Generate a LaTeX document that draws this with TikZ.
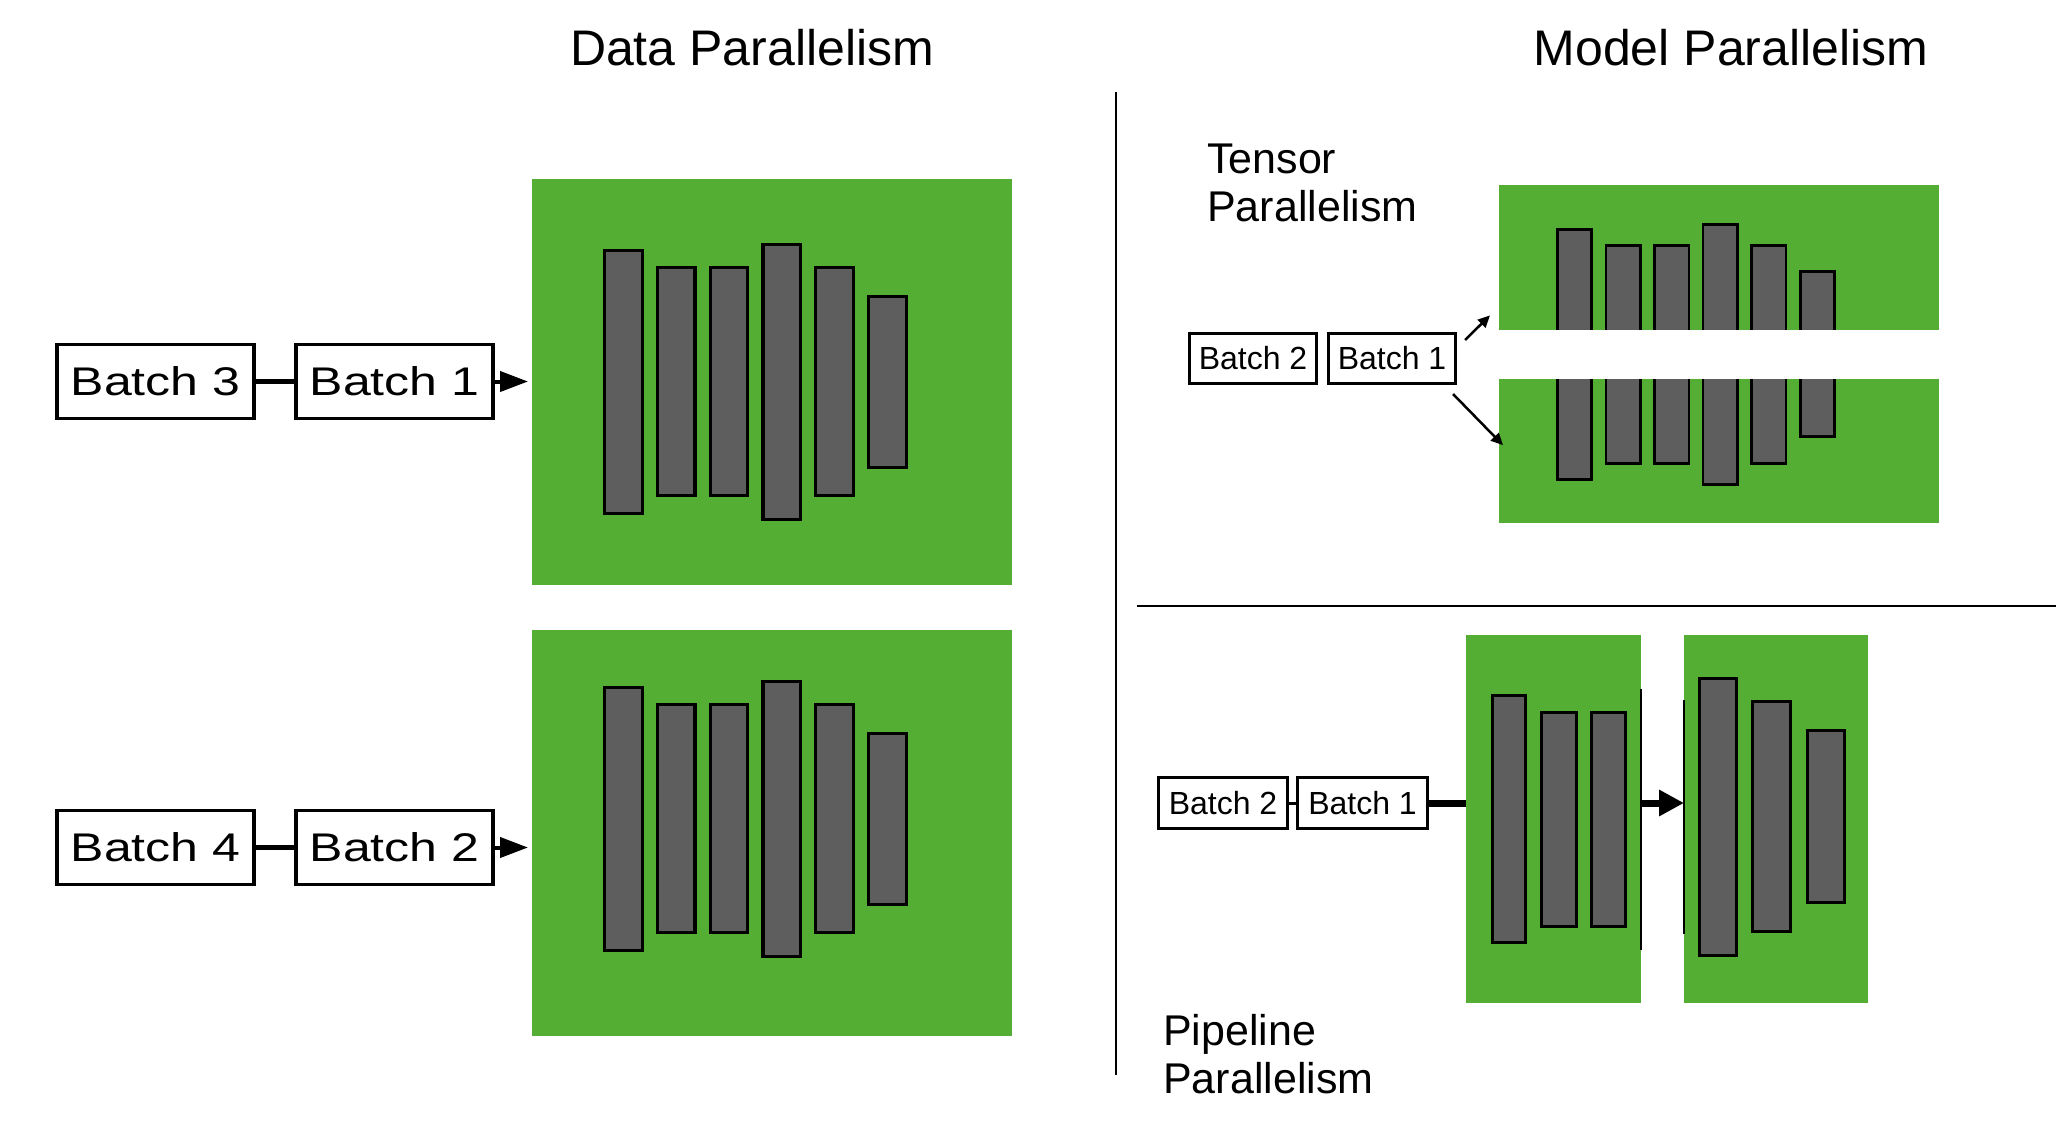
\documentclass[tikz,border=0pt]{standalone}
\usepackage{fontspec,graphicx}
\setmainfont{Liberation Sans}
\definecolor{pgreen}{RGB}{84,174,51}
\definecolor{bargray}{RGB}{94,94,94}
\usetikzlibrary{arrows.meta,positioning,calc}
\newcommand{\wide}[1]{\scalebox{1.25}[1]{#1}}

\begin{document}
\begin{tikzpicture}[x=1pt, y=-1pt,
  bx/.style={draw, line width=3.3pt, inner sep=0pt, minimum width=197pt, minimum height=74pt, font=\fontsize{40}{48}\selectfont},
  sbx/.style={draw, line width=3.2pt, inner sep=0pt, minimum width=127pt, minimum height=50pt, font=\fontsize{32}{38}\selectfont},
  panel/.style={fill=pgreen, inner sep=0pt, anchor=north west},
  bar/.style={draw, fill=bargray, line width=3.3pt},
  ttl/.style={font=\fontsize{50}{60}\selectfont, anchor=base, inner sep=0pt},
  lbl/.style={font=\fontsize{43}{48}\selectfont, align=left, anchor=base west, inner sep=0pt}]
\useasboundingbox (0,0) rectangle (2056,1130);
% Titles and separators
\node[ttl] (dtitle) at (752,65) {Data Parallelism};
\node[ttl] (mtitle) at (1731,65) {Model Parallelism};
\draw[line width=2pt] (1116,92) -- (1116,1075);
\draw[line width=2pt] (1137,606) -- (2056,606);
% Data parallelism
\node[panel, minimum width=480pt, minimum height=406pt] (dp1) at (532,179) {};
\node[panel, minimum width=480pt, minimum height=406pt] (dp2) at (532,630) {};
\foreach \yo in {0,437}
  \foreach \i/\t/\b in {0/249/515,1/266/497,2/266/497,3/243/521,4/266/497,5/295/469}
    \draw[bar] ({604.6+52.8*\i},{\t+\yo+1.6}) rectangle ({642.2+52.8*\i},{\b+\yo-1.6});
\node[bx] (b3) at (155.5,381.5) {\wide{Batch 3}};
\node[bx] (b1) at (394.5,381.5) {\wide{Batch 1}};
\node[bx] (b4) at (155.5,847.5) {\wide{Batch 4}};
\node[bx] (b2) at (394.5,847.5) {\wide{Batch 2}};
\draw[line width=5pt] (b3) -- (b1);
\draw[line width=5pt] (b4) -- (b2);
\draw[line width=4pt, -{Triangle[length=28pt,width=20pt]}] (b1.east) -- ([xshift=-4pt]b1.east -| dp1.west);
\draw[line width=4pt, -{Triangle[length=28pt,width=20pt]}] (b2.east) -- ([xshift=-4pt]b2.east -| dp2.west);
% Tensor parallelism
\node[lbl] (tlabel) at (1207,221) {Tensor\\Parallelism};
\node[panel, minimum width=440pt, minimum height=145pt] (tp1) at (1499,185) {};
\node[panel, minimum width=440pt, minimum height=144pt] (tp2) at (1499,379) {};
\foreach \i/\t/\b in {0/228/481,1/244/465,2/244/465,3/223/486,4/244/465,5/270/438}
  \draw[bar, line width=2.7pt] ({1557.3+48.6*\i},{\t+1.35}) rectangle ({1591.7+48.6*\i},{\b-1.35});
\fill[white] (tp1.south west) rectangle (tp2.north east);
\node[sbx] (tb2) at (1253,358.5) {Batch 2};
\node[sbx] (tb1) at (1392,358.5) {Batch 1};
\draw[line width=2.5pt, -{Triangle[length=12pt,width=11pt]}] ([xshift=8pt,yshift=-8pt]tb1.north east) -- ([xshift=-9pt,yshift=15pt]tp1.south west);
\draw[line width=2.5pt, -{Triangle[length=12pt,width=11pt]}] ([xshift=-4pt,yshift=-9pt]tb1.south east) -- ([xshift=4pt,yshift=6pt]tp2.west);
% Pipeline parallelism
\node[lbl] (plabel) at (1163,1093) {Pipeline\\Parallelism};
\node[panel, minimum width=175pt, minimum height=368pt] (pp1) at (1466,635) {};
\node[panel, minimum width=184pt, minimum height=368pt] (pp2) at (1684,635) {};
\foreach \l/\r/\t/\b in {1491/1527/694/944,1540/1578/711/928,1590/1627/711/928,1698/1738/677/957,1751/1792/700/933,1806/1846/729/904}
  \draw[bar, line width=2.7pt] ({\l+1.35},{\t+1.35}) rectangle ({\r-1.35},{\b-1.35});
\draw[line width=2pt] ([yshift=-54pt]pp1.north east) -- ([yshift=53pt]pp1.south east);
\draw[line width=2pt] ([yshift=-65pt]pp2.north west) -- ([yshift=69pt]pp2.south west);
\node[sbx, minimum width=129pt, minimum height=51pt] (pb2) at (1223,803) {Batch 2};
\node[sbx, minimum width=130pt, minimum height=51pt] (pb1) at (1362.5,803) {Batch 1};
\draw[line width=3pt] (pb2) -- (pb1);
\draw[line width=7pt] (pb1.east) -- (pb1.east -| pp1.west);
\draw[line width=7pt, -{Triangle[length=25pt,width=25pt]}] (pb1.east -| pp1.east) -- (pb1.east -| pp2.west);
\end{tikzpicture}
\end{document}
